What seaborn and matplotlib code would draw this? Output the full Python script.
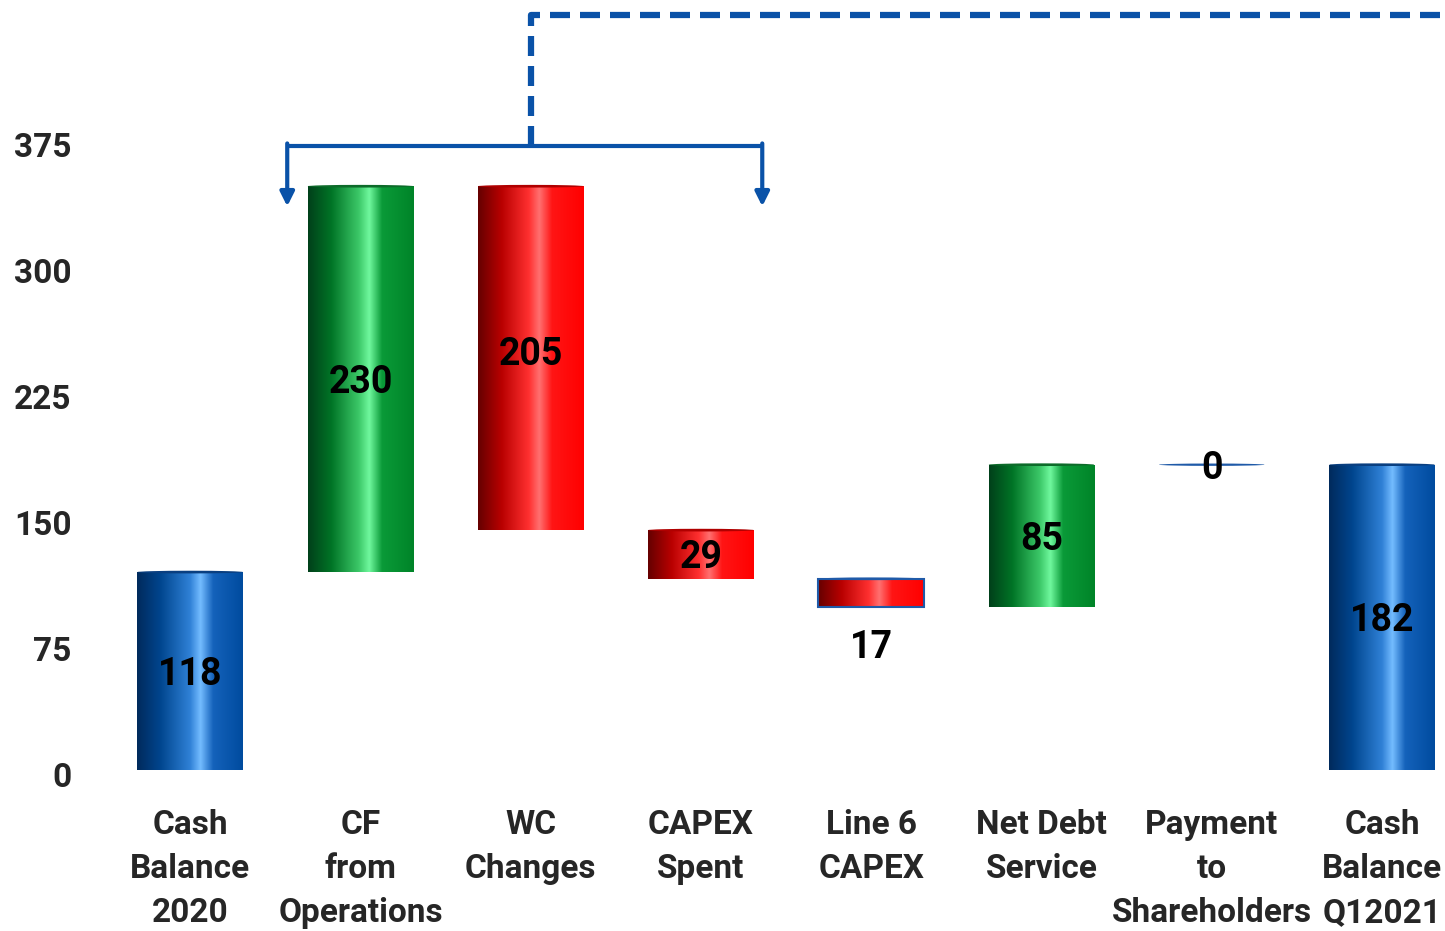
import numpy as np
import pandas as pd
import matplotlib
matplotlib.use("Agg")
import matplotlib.pyplot as plt
import matplotlib.transforms as mtransforms
from matplotlib.colors import LinearSegmentedColormap
from matplotlib.patches import Ellipse
import seaborn as sns

# ---- data -------------------------------------------------------------
categories = ["Cash\nBalance\n2020", "CF\nfrom\nOperations", "WC\nChanges",
              "CAPEX\nSpent", "Line 6\nCAPEX", "Net Debt\nService",
              "Payment\nto\nShareholders", "Cash\nBalance\nQ12021"]
values = [118, 230, -205, -29, -17, 85, 0, 182]
is_total = [True, False, False, False, False, False, False, True]
y_ticks = [0, 75, 150, 225, 300, 375]

# ---- waterfall geometry ----------------------------------------------
bottoms, heights = [], []
running = 0
for v, tot in zip(values, is_total):
    if tot:
        bottoms.append(0)
        heights.append(v)
        running = v
    else:
        start = running
        running = running + v
        bottoms.append(min(start, running))
        heights.append(abs(v))

df = pd.DataFrame({"category": categories, "height": heights})

sns.set_theme(style="white")
plt.rcParams["font.family"] = ["Roboto", "DejaVu Sans"]
plt.rcParams["font.weight"] = "bold"

fig = plt.figure(figsize=(14.45, 9.31), dpi=100)
ax = fig.add_axes([0.0727, 0.1729, 1 - 0.0727, 1 - 0.1729])

sns.barplot(data=df, x="category", y="height", width=0.62, ax=ax,
            color="white", edgecolor="none", linewidth=0)

cmaps = {
    "blue": LinearSegmentedColormap.from_list(
        "cyl_blue", [(0, "#002a5c"), (0.22, "#00458e"), (0.5, "#2f80d6"),
                     (0.6, "#74bcff"), (0.72, "#1462bb"), (1, "#004b9e")]),
    "green": LinearSegmentedColormap.from_list(
        "cyl_green", [(0, "#00401a"), (0.22, "#007426"), (0.48, "#3cc868"),
                      (0.58, "#70f89e"), (0.7, "#0a9a38"), (1, "#008428")]),
    "red": LinearSegmentedColormap.from_list(
        "cyl_red", [(0, "#650000"), (0.22, "#b80000"), (0.48, "#ff3030"),
                    (0.58, "#ff7070"), (0.7, "#ff1515"), (1, "#ff0000")]),
}
cap_colors = {"blue": "#0a3f80", "green": "#0d6b2a", "red": "#b00000"}
bar_colors = ["blue", "green", "red", "red", "red", "green", "blue", "blue"]
edge_override = {4: "#1f5aa8"}

grad = np.linspace(0, 1, 256).reshape(1, -1)
for i, patch in enumerate(ax.patches):
    patch.set_y(bottoms[i])
    patch.set_height(heights[i])
    x0 = patch.get_x()
    w = patch.get_width()
    col = bar_colors[i]
    if heights[i] > 0:
        im = ax.imshow(grad, cmap=cmaps[col], aspect="auto",
                       extent=[x0, x0 + w, bottoms[i], bottoms[i] + heights[i]],
                       zorder=2, interpolation="bilinear")
        im.set_clip_path(patch)
        if i in edge_override:
            patch.set_edgecolor(edge_override[i])
            patch.set_linewidth(1.5)
            patch.set_zorder(3)
            patch.set_facecolor("none")
        # slim elliptical cap on top of each cylinder
        ax.add_patch(Ellipse((x0 + w / 2, bottoms[i] + heights[i]), w, 1.6,
                             facecolor=edge_override.get(i, cap_colors[col]),
                             edgecolor="none", zorder=4))
    else:
        ax.add_patch(Ellipse((x0 + w / 2, bottoms[i]), w, 1.4,
                             facecolor="#1f5aa8", edgecolor="none", zorder=4))

# value labels
label_shift = {2: 4}
for i, v in enumerate(values):
    if i == 4:
        y = bottoms[i] - 24
    elif heights[i] == 0:
        y = bottoms[i] - 2
    else:
        y = bottoms[i] + heights[i] / 2 - 2 + label_shift.get(i, 0)
    ax.text(i, y, f"{abs(v)}", ha="center", va="center", fontsize=27,
            fontweight="bold", color="black", zorder=6)

# bracket with arrows over the operating items
blue_line = "#0a52a8"
ax.plot([0.57, 3.36], [372, 372], color=blue_line, lw=3, clip_on=False,
        solid_capstyle="butt", zorder=5)
for xa in (0.57, 3.36):
    ax.annotate("", xy=(xa, 336), xytext=(xa, 373.5),
                arrowprops=dict(arrowstyle="-|>,head_length=0.7,head_width=0.35",
                                color=blue_line, lw=3, shrinkA=0, shrinkB=0),
                annotation_clip=False, zorder=5)
ax.plot([2.0, 2.0, 7.4], [372, 450, 450], color=blue_line, lw=4.5,
        linestyle=(0, (3.2, 1.6)), clip_on=False, zorder=5)

# axes styling
ax.set_xlim(-0.5, 7.37)
ax.set_ylim(0, 459)
ax.set_yticks(y_ticks)
ax.set_yticklabels([str(t) for t in y_ticks], fontsize=24, fontweight="bold")
ax.tick_params(axis="y", length=0, pad=24)
ax.tick_params(axis="x", length=0, pad=28)
ax.set_xticks(range(len(categories)))
ax.set_xticklabels(categories, fontsize=24, fontweight="bold", linespacing=1.48)
shift_down = mtransforms.ScaledTranslation(0, -4 / 100, fig.dpi_scale_trans)
for lbl in ax.get_yticklabels():
    lbl.set_transform(lbl.get_transform() + shift_down)
ax.set_xlabel("")
ax.set_ylabel("")
ax.grid(False)
sns.despine(ax=ax, left=True, bottom=True)
ax.set_facecolor("white")

fig.savefig("out.png", dpi=100, facecolor="white")
